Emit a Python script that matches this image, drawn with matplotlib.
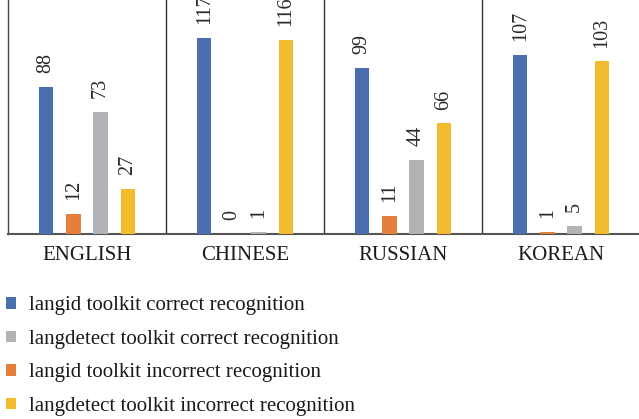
import matplotlib
matplotlib.use("Agg")
import matplotlib.pyplot as plt
import numpy as np

categories = ["ENGLISH", "CHINESE", "RUSSIAN", "KOREAN"]
series_names = [
    "langid toolkit correct recognition",
    "langid toolkit incorrect recognition",
    "langdetect toolkit correct recognition",
    "langdetect toolkit incorrect recognition",
]
langid_correct = [88, 117, 99, 107]
langid_incorrect = [12, 0, 11, 1]
langdetect_correct = [73, 1, 44, 5]
langdetect_incorrect = [27, 116, 66, 103]
series_values = [langid_correct, langid_incorrect, langdetect_correct, langdetect_incorrect]
colors = ["#4a6eae", "#e57f3c", "#b1b3b6", "#f3bc2e"]
legend_order = [0, 2, 1, 3]

plt.rcParams['font.family'] = ['Liberation Serif', 'DejaVu Serif']

fig = plt.figure(figsize=(6.39, 4.19), dpi=100)
ax = fig.add_axes([8/639, (419-234)/419, 632/639, 234/419])

x = np.arange(len(categories))
spacing = 0.172
width = 0.09
bars = []
for i, (vals, col) in enumerate(zip(series_values, colors)):
    b = ax.bar(x + (i - 1.5) * spacing, vals, width, color=col, label=series_names[i], zorder=3)
    bars.append(b)
    ax.bar_label(b, padding=10, rotation=90, fontsize=14.5, color="#2a2a2a")

ax.set_xlim(-0.5, len(categories) - 0.5)
ax.set_ylim(0, 139.7)
ax.set_yticks([])
ax.set_xticks(x)
ax.set_xticklabels(categories, fontsize=15, color="#1a1a1a")
ax.tick_params(axis='x', length=0, pad=8.5)
for b in np.arange(0.5, len(categories) - 0.5, 1.0):
    ax.axvline(b, color="#333333", lw=1.0, zorder=2)
ax.spines['top'].set_visible(False)
ax.spines['right'].set_visible(False)
ax.spines['left'].set_color("#444444")
ax.spines['left'].set_linewidth(1.0)
ax.spines['bottom'].set_color("#555555")
ax.spines['bottom'].set_linewidth(1.5)
ax.patch.set_alpha(0)

handles = [bars[i] for i in legend_order]
labels = [series_names[i] for i in legend_order]
fig.legend(handles, labels, loc='upper left', bbox_to_anchor=(0.0, 1 - 290/419),
           frameon=False, fontsize=15, handlelength=0.48, handleheight=0.48,
           handletextpad=0.62, labelspacing=0.70, borderaxespad=0, borderpad=0.3,
           labelcolor="#1a1a1a")

fig.savefig("out.png", dpi=100)
